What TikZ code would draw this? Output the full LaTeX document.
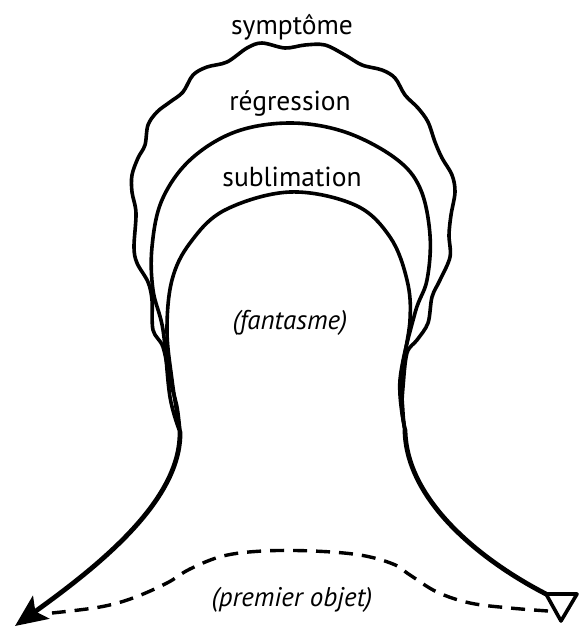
\documentclass[tikz,border=0pt]{standalone}
\usepackage{fontspec}
\setmainfont{PT Sans}
\usetikzlibrary{positioning,arrows.meta}
\tikzset{
  obrys/.style={line width=3.6pt,line join=round,line cap=round},
  spodek/.style={line width=4.8pt,line cap=round},
  carky/.style={line width=3.4pt,dash pattern=on 14pt off 9pt},
  popis/.style={font=\fontsize{27.5}{32}\selectfont,inner sep=0pt},
  popisI/.style={font=\fontsize{27}{32}\selectfont\itshape,inner sep=0pt},
}

\begin{document}
\begin{tikzpicture}[x=1pt,y=-1pt,>={Stealth[length=32pt,width=28pt,inset=7pt]}]
  \useasboundingbox (0,0) rectangle (580,627);
  \coordinate (L) at (180,432);
  \coordinate (R) at (405,430);
  \coordinate (hrot) at (15,626);
  \coordinate (t1) at (546,594);
  \coordinate (t2) at (577,594);
  \coordinate (t3) at (561,621);
  % popisky
  \node[popis] (sym) at (292,27) {symptôme};
  \node[popis] (reg) at (290,104) {régression};
  \node[popis] (sub) at (292,177) {sublimation};
  \node[popisI] (fan) at (290,323) {(fantasme)};
  \node[popisI] (obj) at (292,600) {(premier objet)};
  % tri krivky
  \draw[obrys] plot[smooth,tension=0.6] coordinates {(L) (172,380) (167,330)
    (172,280) (190,243) (225,210) (290,192) (355,205) (390,237) (407,280)
    (410,320) (402,373) (403,413) (R)};
  \draw[obrys] plot[smooth,tension=0.6] coordinates {(L) (170,397) (163,330)
    (153,290) (152,247) (162,200) (190,160) (235,132) (290,123) (345,132)
    (395,158) (420,188) (430,235) (427,280) (415,313) (400,380) (R)};
  \draw[obrys] plot[smooth,tension=0.55] coordinates {(L) (177,407) (170,380) (163,347)
    (153,330) (152,300) (148,282) (137,263) (134,247) (136,213) (132,192) (132,175)
    (138,158) (145,145) (148,125) (157,112) (170,102) (183,92) (193,75) (207,67)
    (227,62) (247,48) (262,43) (285,48) (305,45) (325,45) (345,55) (362,65) (382,70)
    (395,78) (405,95) (418,108) (428,122) (435,142) (442,158) (452,175) (455,192)
    (451,215) (449,235) (450,257) (440,280) (432,297) (428,323) (417,340) (407,353)
    (403,387) (402,410) (R)};
  % spodni cary
  \draw[spodek,->] (L) .. controls (181,500) and (100,565) .. (hrot);
  \draw[spodek] (R) .. controls (406,500) and (480,560) .. (t1);
  \draw[obrys,fill=white] (t1) -- (t2) -- (t3) -- cycle;
  \draw[carky] plot[smooth,tension=0.6] coordinates {(548,611) (510,608) (470,603)
    (437,592) (410,575) (393,564) (360,555) (313,551) (263,551) (223,556) (190,569)
    (167,583) (133,598) (100,607) (52,613)};
\end{tikzpicture}
\end{document}
